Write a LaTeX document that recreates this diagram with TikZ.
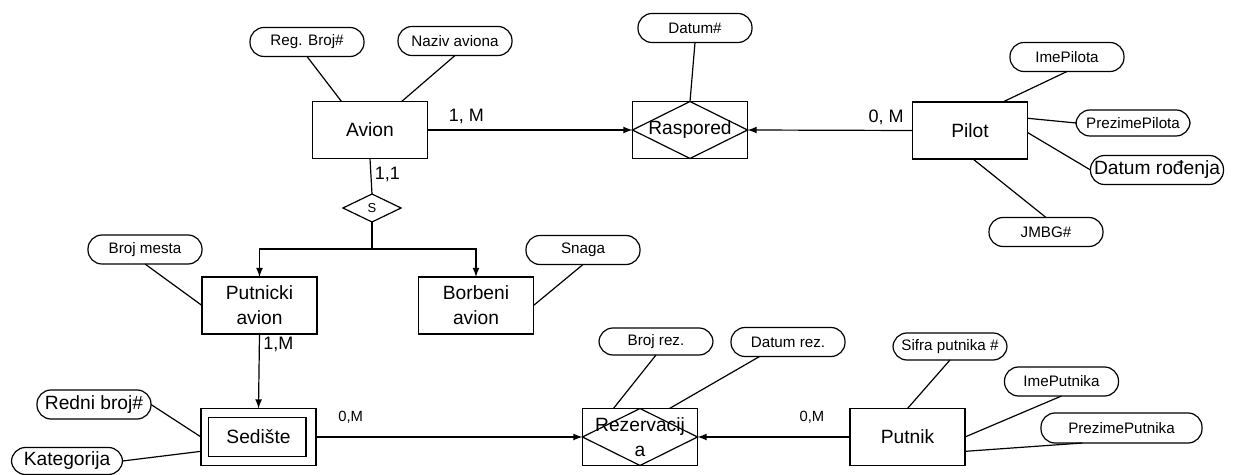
\documentclass[tikz,border=0pt]{standalone}
\usepackage{fontspec}
\setmainfont{Liberation Sans}
\usepackage{tikz}
\usetikzlibrary{calc,arrows,positioning}
\usetikzlibrary{shapes,shapes.geometric}
\tikzset{
  entity/.style={draw, line width=0.6pt, minimum width=57.5pt, minimum height=28.5pt, inner sep=1pt, align=center, font=\fontsize{9.6}{12.5}\selectfont},
  relbox/.style={entity},
  attr/.style={draw, line width=0.6pt, rounded corners=7pt, minimum width=57pt, minimum height=14.5pt, inner sep=1pt, font=\fontsize{7.6}{9}\selectfont},
  bigattr/.style={attr, font=\fontsize{9.6}{11}\selectfont},
  isa/.style={diamond, draw, line width=0.6pt, minimum width=29pt, minimum height=14pt, inner sep=0pt, font=\fontsize{6.5}{8}\selectfont},
  card/.style={inner sep=1pt, font=\fontsize{9}{11}\selectfont},
  smallcard/.style={inner sep=1pt, font=\fontsize{7.4}{9}\selectfont}
}
\begin{document}
\begin{tikzpicture}[x=0.5pt,y=-0.5pt,outer sep=0pt,line width=0.6pt]
    \useasboundingbox (0,0) rectangle (1236,475);
    % entiteti i veze
    \node (avion) [entity] at (370,130) {Avion};
    \node (raspored) [relbox] at (690,130) {Raspored};
    \node (pilot) [entity] at (970,130.5) {Pilot};
    \node (s) [isa] at (372,208) {S};
    \node (putnicki) [entity] at (259.5,305.5) {Putnicki\\avion};
    \node (borbeni) [entity] at (476,305.5) {Borbeni\\avion};
    \node (sediste) [entity] at (258.5,437) {Sedište};
    \node (rez) [relbox] at (640,437) {Rezervacij\\a};
    \node (putnik) [entity] at (907.5,437) {Putnik};
    \draw (raspored.north) -- (raspored.east) -- (raspored.south) -- (raspored.west) -- cycle;
    \draw (rez.north) -- (rez.east) -- (rez.south) -- (rez.west) -- cycle;
    \draw ([shift={(3.8pt,-4.5pt)}]sediste.north west) rectangle ([shift={(-5pt,4.5pt)}]sediste.south east);
    % atributi
    \node (regbroj) [attr] at (307,42) {Reg. Broj\#};
    \node (naziv) [attr] at (455,41) {Naziv aviona};
    \node (datum) [attr] at (695,28) {Datum\#};
    \node (imepilota) [attr] at (1067,57) {ImePilota};
    \node (prezimepilota) [attr,minimum height=13pt] at (1133,123) {PrezimePilota};
    \node (datumrodjenja) [bigattr,minimum width=66.5pt] at (1157,170) {Datum rođenja};
    \node (jmbg) [attr] at (1046,232) {JMBG\#};
    \node (brojmesta) [attr] at (145,249.5) {Broj mesta};
    \node (snaga) [attr] at (583,250) {Snaga};
    \node (rednibroj) [bigattr] at (94,404.5) {Redni broj\#};
    \node (kategorija) [bigattr,minimum width=55.5pt,minimum height=13.5pt] at (67,461) {Kategorija};
    \node (brojrez) [attr,minimum height=13.5pt] at (656,341.5) {Broj rez.};
    \node (datumrez) [attr] at (788,342) {Datum rez.};
    \node (sifra) [attr,minimum height=13.5pt] at (950,346.5) {Sifra putnika \#};
    \node (imeputnika) [attr] at (1061.5,381.5) {ImePutnika};
    \node (prezimeputnika) [attr,minimum width=80.5pt,minimum height=15pt] at (1121.5,428) {PrezimePutnika};
    \coordinate (split) at (372,249);
    % veze atributa
    \path (regbroj.south) edge (avion.135);
    \path (naziv.south) edge (avion.42);
    \path (datum.south) edge (raspored.north);
    \path (imepilota.south) edge (pilot.41);
    \path (prezimepilota.west) edge (pilot.12);
    \path (datumrodjenja.west) edge (pilot.-2);
    \path (jmbg.north) edge (pilot.-84);
    \path (brojmesta.south) edge (putnicki.west);
    \path (snaga.south) edge (borbeni.east);
    \path (rednibroj.east) edge (sediste.west);
    \path (kategorija.east) edge (sediste.194);
    \path (brojrez.south) edge (rez.133);
    \path (datumrez.207) edge (rez.44);
    \path (sifra.south) edge (putnik.north);
    \path (imeputnika.south) edge (putnik.east);
    \path (prezimeputnika.201) edge (putnik.-14);
    % relacije
    \path (avion.east) edge [-latex] node[card,above=2pt,pos=0.19] (c1) {1, M} (raspored.west);
    \path (pilot.west) edge [-latex] node[card,above=2pt,pos=0.16] (c2) {0, M} (raspored.east);
    \path (avion.south) edge node[card,right=1pt,pos=0.45] (c3) {1,1} (s.north);
    \draw [line width=1.4pt] (s.south) -- (split);
    \draw [-latex] (split) -| (putnicki.north);
    \draw [-latex] (split) -| (borbeni.north);
    \path (putnicki.south) edge [-latex] node[card,right=1pt,pos=0.14] (c4) {1,M} (sediste.north);
    \path (sediste.east) edge [-latex] node[smallcard,above=6pt,pos=0.13] (c5) {0,M} (rez.west);
    \path (putnik.west) edge [-latex] node[smallcard,above=6pt,pos=0.25] (c6) {0,M} (rez.east);
\end{tikzpicture}
\end{document}
